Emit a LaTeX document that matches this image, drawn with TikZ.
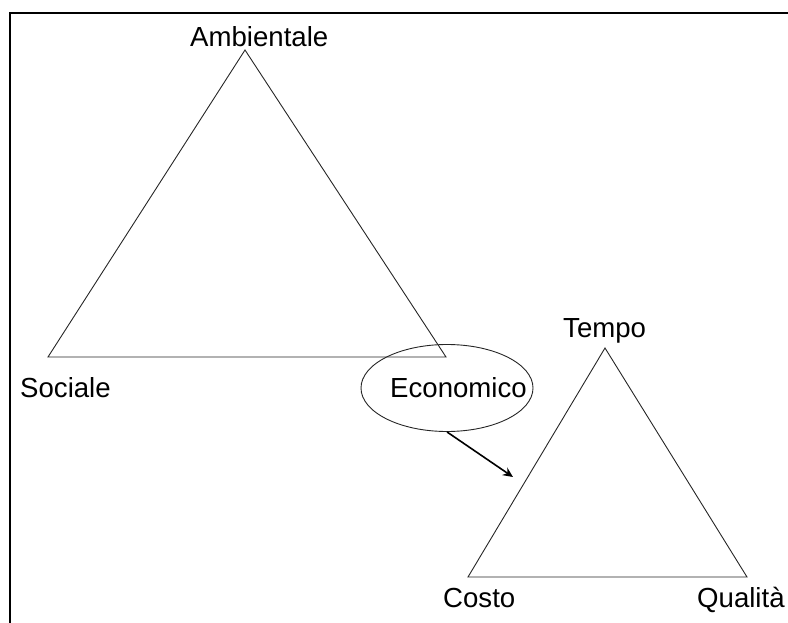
\documentclass[tikz,border=0pt]{standalone}
\usepackage{fontspec}
\setmainfont{Liberation Sans}
\usetikzlibrary{arrows.meta,shapes.geometric}
\begin{document}
\begin{tikzpicture}[x=1pt,y=-1pt,
  lbl/.style={anchor=base west,inner sep=0pt,font=\fontsize{27.6}{32}\selectfont},
  tri/.style={draw=black!85,line width=0.9pt,line join=miter},
  frameline/.style={draw=black,line width=2.2pt}]
\useasboundingbox (0,0) rectangle (788,623);
% partial frame
\coordinate (ftl) at (10,13);
\coordinate (ftr) at (788,13);
\coordinate (fbl) at (10,623);
\draw[frameline] (ftr) -- (ftl) -- (fbl);
% sustainability triangle
\coordinate (A1) at (245,50);
\coordinate (A2) at (48,357);
\coordinate (A3) at (446,357);
\draw[tri] (A1) -- (A2) -- (A3) -- cycle;
% project triangle
\coordinate (B1) at (605,348);
\coordinate (B2) at (468,577);
\coordinate (B3) at (747,577);
\draw[tri] (B1) -- (B2) -- (B3) -- cycle;
% labels
\node[lbl] (amb) at (190,47) {Ambientale};
\node[lbl] (soc) at (20,397) {Sociale};
\node[lbl] (eco) at (390,397) {Economico};
\node[lbl] (tem) at (563,337) {Tempo};
\node[lbl] (cos) at (443,607) {Costo};
\node[lbl] (qua) at (697,607) {Qualità};
% highlight around the economic corner
\node[draw=black!85,line width=0.9pt,ellipse,minimum width=172pt,minimum height=87pt,inner sep=0pt] (ell) at (447,388) {};
\coordinate (tip) at (513,477);
\draw[line width=1.6pt,-{Stealth[length=10pt,width=9pt]}] (ell.south) -- (tip);
\end{tikzpicture}
\end{document}
